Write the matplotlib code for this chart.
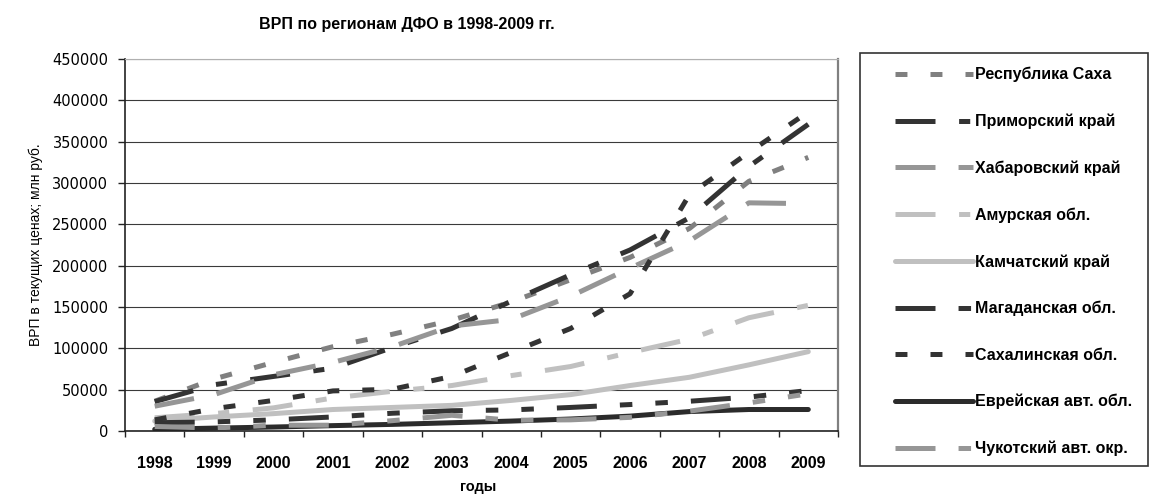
import matplotlib
matplotlib.use("Agg")
import matplotlib.pyplot as plt
from matplotlib.patches import Rectangle
import numpy as np

plt.rcParams["font.family"] = ["Liberation Sans", "DejaVu Sans"]
plt.rcParams["lines.scale_dashes"] = False

years = ["1998", "1999", "2000", "2001", "2002", "2003",
         "2004", "2005", "2006", "2007", "2008", "2009"]
saha = [36000, 63000, 83000, 102000, 117000, 134000, 156000, 183000, 210000, 245000, 302000, 331000]
primorsky = [35500, 56000, 66000, 76000, 101000, 124000, 157000, 189000, 219000, 258000, 320000, 371000]
khabarovsky = [30000, 44000, 68000, 83000, 102000, 127000, 135000, 163000, 197000, 230000, 276000, 275000]
amur = [16000, 21000, 28000, 40000, 48000, 55000, 67000, 78000, 95000, 111000, 137000, 152000]
kamchatka = [12000, 17000, 21000, 26000, 28500, 31000, 37000, 44000, 55000, 65000, 80000, 96000]
magadan = [10000, 11000, 13500, 17000, 21500, 24500, 25500, 28500, 32000, 36000, 41000, 49000]
sakhalin = [13500, 27000, 37000, 48500, 50500, 66000, 95000, 124000, 166000, 286000, 337000, 386000]
jewish = [2000, 3500, 4800, 6500, 8000, 10000, 12000, 14500, 18000, 23500, 26000, 26000]
chukotka = [5500, 3600, 7000, 7000, 12500, 19000, 13000, 13500, 16500, 24000, 34000, 45000]

names = ["Республика Саха", "Приморский край", "Хабаровский край", "Амурская обл.",
         "Камчатский край", "Магаданская обл.", "Сахалинская обл.",
         "Еврейская авт. обл.", "Чукотский авт. окр."]
series = [saha, primorsky, khabarovsky, amur, kamchatka, magadan, sakhalin, jewish, chukotka]

# dash patterns in points (Excel-like)
DASH = (0, (8.6, 16.6))
LONGDASH = (0, (28.8, 16.6))
LDD = (0, (28.8, 17, 8, 17))
LDDD = (0, (28.8, 16.6, 9, 16.6, 9, 16.6))
styles = [("#808080", DASH), ("#333333", LDD), ("#969696", LONGDASH), ("#c0c0c0", LDD),
          ("#c0c0c0", "-"), ("#333333", LDDD), ("#333333", DASH), ("#2b2b2b", "-"),
          ("#969696", LDDD)]

W, H = 1152, 497
fig = plt.figure(figsize=(W / 100, H / 100), dpi=100, facecolor="white")
ax = fig.add_axes([125 / W, 1 - 431 / H, (838 - 125) / W, (431 - 59) / H])

x = np.arange(len(years))
lines = []
for vals, name, (col, ls) in zip(series, names, styles):
    ln, = ax.plot(x, vals, color=col, lw=3.6, ls=ls, label=name,
                  dash_capstyle="butt", solid_capstyle="round")
    lines.append(ln)

ax.set_xlim(-0.5, len(years) - 0.5)
ax.set_ylim(0, 450000)
ax.set_yticks(np.arange(0, 450001, 50000))
ax.yaxis.grid(True, color="#3a3a3a", lw=0.8)
ax.set_axisbelow(True)
ax.set_xticks(np.arange(-0.5, len(years)), labels=[])
ax.set_xticks(x, labels=years, minor=True)
ax.tick_params(axis="x", which="major", direction="out", length=4, width=1, color="#222")
ax.tick_params(axis="x", which="minor", length=0, pad=18, labelsize=11.5)
ax.tick_params(axis="y", direction="out", length=5, width=1, color="#222", pad=7)
for lab in ax.get_xticklabels(minor=True):
    lab.set_fontweight("bold")
for lab in ax.get_yticklabels():
    lab.set_fontfamily("DejaVu Sans")
    lab.set_fontsize(10.5)

for s in ["left", "bottom"]:
    ax.spines[s].set_color("#222")
    ax.spines[s].set_linewidth(1.2)
ax.spines["top"].set_color("#b0b0b0")
ax.spines["right"].set_color("#808080")
ax.spines["right"].set_linewidth(1.6)

fig.text(407 / W, 1 - 24 / H, "ВРП по регионам ДФО в 1998-2009 гг.", ha="center",
         va="center", fontsize=11.5, fontweight="bold")
fig.text(36 / W, 1 - 245 / H, "ВРП в текущих ценах; млн руб.", rotation=90, ha="center",
         va="center", fontsize=10)
fig.text(478 / W, 1 - 487 / H, "годы", ha="center", va="center", fontsize=10.5,
         fontweight="bold")

leg = fig.legend(handles=lines, loc="upper left", bbox_to_anchor=(895 / W, 1 - 67 / H),
                 frameon=False, prop={"weight": "bold", "size": 11.5}, handlelength=4.9,
                 handletextpad=0.12, labelspacing=1.96, borderpad=0, borderaxespad=0)
fig.add_artist(Rectangle((860 / W, 1 - 466 / H), 288 / W, 413 / H,
                         transform=fig.transFigure, fill=False, ec="#333333", lw=1.2))

fig.savefig("out.png", dpi=100)
